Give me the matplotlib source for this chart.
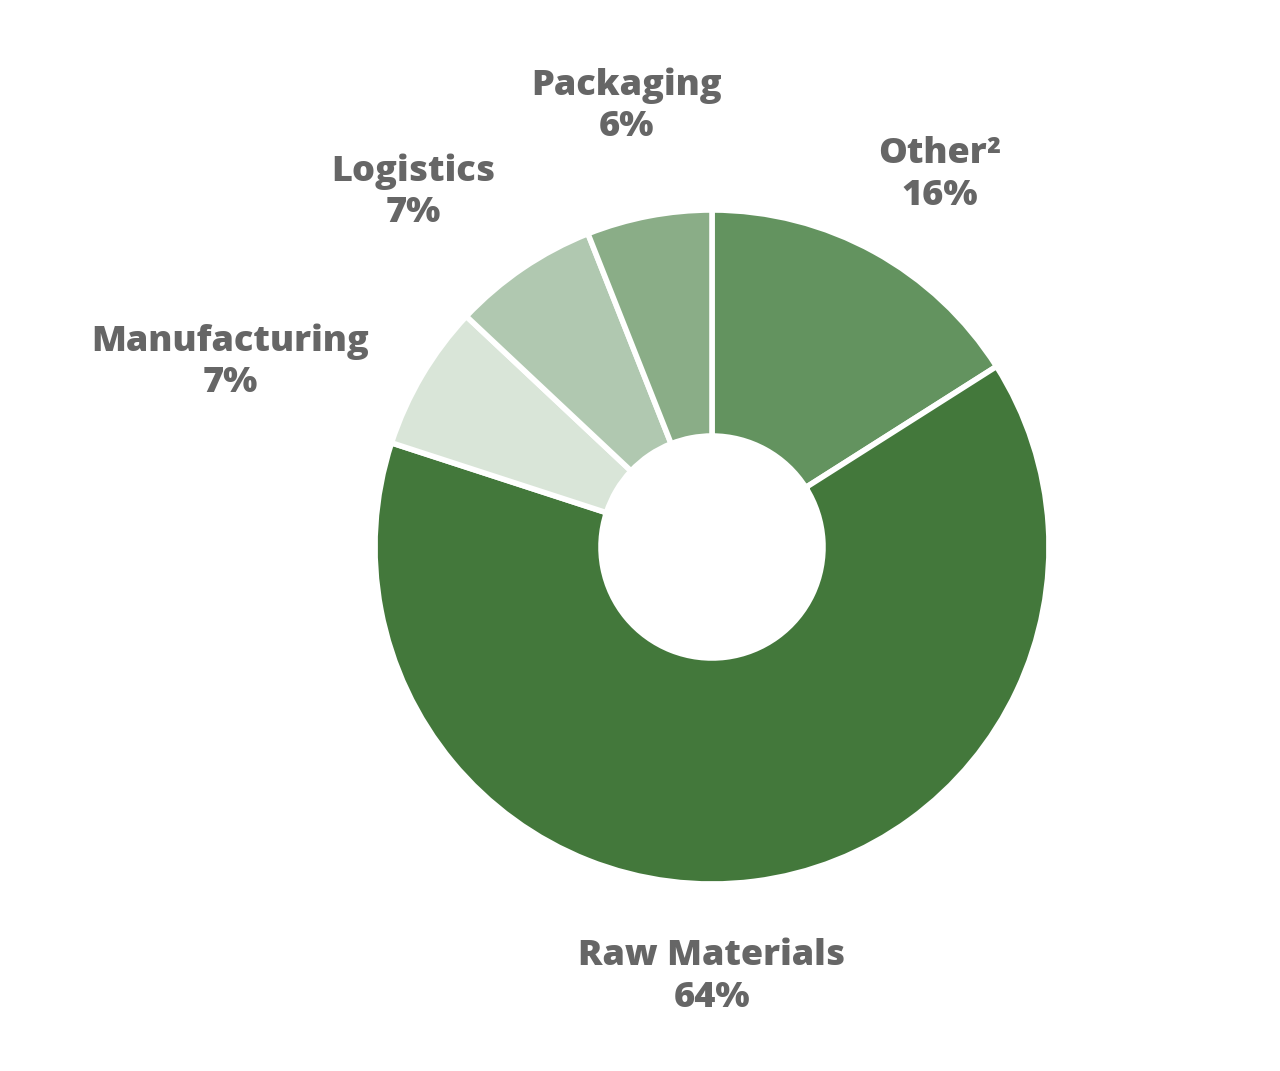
import matplotlib.pyplot as plt

labels = ['Other²', 'Raw Materials', 'Manufacturing', 'Logistics', 'Packaging']
shares = [16, 64, 7, 7, 6]
colors = ['#63935f', '#43783b', '#d9e5d8', '#b0c8b0', '#8aad87']

# label anchor points in pixel coords (x from left, y from top)
label_pos = [(940, 175), (712, 977), (230, 362), (413, 192), (627, 106)]

plt.rcParams['font.family'] = ['Open Sans', 'DejaVu Sans']

fig = plt.figure(figsize=(12.8, 10.71), dpi=100)
ax = fig.add_axes([0, 0, 1, 1])

cx, cy = 712, 1071 - 547
ax.pie(shares, colors=colors, startangle=90, counterclock=False,
       center=(cx, cy), radius=337, frame=True,
       wedgeprops=dict(width=337 - 111, edgecolor='white', linewidth=4))
ax.set_xlim(0, 1280)
ax.set_ylim(0, 1071)
ax.set_aspect('equal')
ax.axis('off')

for lab, val, (x, y) in zip(labels, shares, label_pos):
    ax.text(x, 1071 - y, f'{lab}\n{val}%', ha='center', va='center',
            fontsize=26, fontweight='heavy', color='#666666', linespacing=1.2)

fig.savefig('out.png', dpi=100)
